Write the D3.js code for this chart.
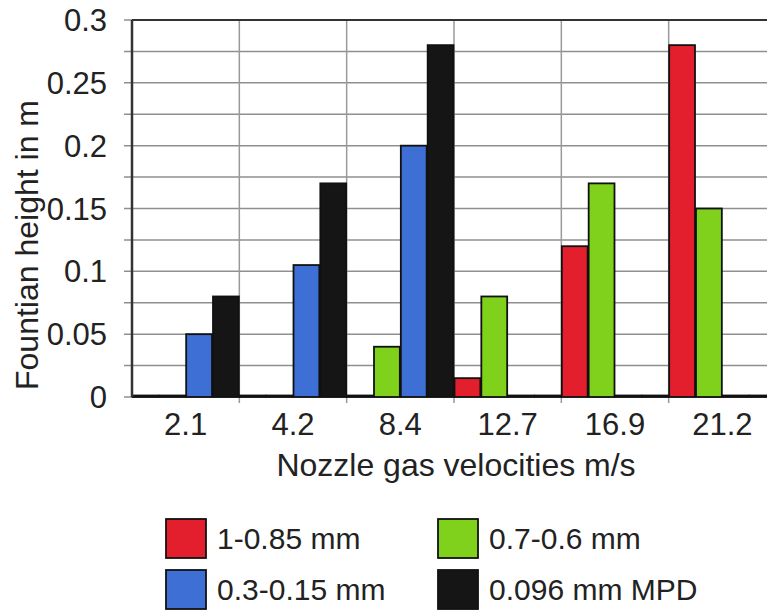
<!DOCTYPE html>
<html>
<head>
<meta charset="utf-8">
<script src="https://cdn.jsdelivr.net/npm/d3@7"></script>
<style>
  body { margin: 0; background: #fff; }
  text { font-family: "Liberation Sans", Arial, sans-serif; fill: #222; }
</style>
</head>
<body>
<div id="chart"></div>
<script>
// chart values
var velocities = ['2.1', '4.2', '8.4', '12.7', '16.9', '21.2'];
var seriesNames = ['1-0.85 mm', '0.7-0.6 mm', '0.3-0.15 mm', '0.096 mm MPD'];
var seriesColors = ['#e41f2d', '#7fd11b', '#3d6fd4', '#151515'];
var coarse = [0, 0, 0, 0.015, 0.12, 0.28];     // 1-0.85 mm
var medium = [0, 0, 0.04, 0.08, 0.17, 0.15];   // 0.7-0.6 mm
var fine = [0.05, 0.105, 0.2, 0, 0, 0];        // 0.3-0.15 mm
var mpd = [0.08, 0.17, 0.28, 0, 0, 0];         // 0.096 mm MPD
var yTicks = [0, 0.05, 0.1, 0.15, 0.2, 0.25, 0.3];
var yGrid = d3.range(0, 0.3001, 0.025);

var seriesValues = [coarse, medium, fine, mpd];

function barChart(parentId) {
    let width = 767;
    let height = 612;

    let left = 132, right = 776, top = 20, bottom = 397;

    let svg = d3.select('#' + parentId).append('svg')
        .attr('width', width)
        .attr('height', height);

    let xScale = d3.scaleBand()
        .domain(velocities)
        .range([left, right])
        .paddingInner(0)
        .paddingOuter(0);

    let xInner = d3.scaleBand()
        .domain(seriesNames)
        .range([0, xScale.bandwidth()])
        .padding(0);

    let yScale = d3.scaleLinear()
        .domain([0, 0.3])
        .range([bottom, top]);

    // horizontal grid lines (with little ticks left of the axis)
    svg.append('g').selectAll('line')
        .data(yGrid)
        .enter()
        .append('line')
        .attr('x1', left - 8)
        .attr('x2', right)
        .attr('y1', d => yScale(d))
        .attr('y2', d => yScale(d))
        .style('stroke', '#8f8f8f')
        .style('stroke-width', 1.5);

    // vertical grid lines between categories
    let bounds = velocities.map(v => xScale(v)).concat([right]);
    svg.append('g').selectAll('line')
        .data(bounds.slice(1))
        .enter()
        .append('line')
        .attr('x1', d => d)
        .attr('x2', d => d)
        .attr('y1', top)
        .attr('y2', bottom + 6)
        .style('stroke', '#9a9a9a')
        .style('stroke-width', 1.5);

    // top border
    svg.append('line')
        .attr('x1', left).attr('x2', right)
        .attr('y1', top).attr('y2', top)
        .style('stroke', '#333').style('stroke-width', 2);

    // bars
    let rows = [];
    velocities.forEach(function (v, i) {
        seriesNames.forEach(function (s, j) {
            rows.push({ cat: v, series: s, value: seriesValues[j][i], color: seriesColors[j] });
        });
    });

    svg.append('g').selectAll('rect')
        .data(rows)
        .enter()
        .append('rect')
        .attr('x', d => xScale(d.cat) + xInner(d.series) + 0.5)
        .attr('y', d => Math.min(yScale(d.value), bottom - 1.5))
        .attr('width', xInner.bandwidth() - 1)
        .attr('height', d => Math.max(1.5, bottom - yScale(d.value)))
        .style('fill', d => d.color)
        .style('stroke', '#111')
        .style('stroke-width', 1.8);

    // y axis line
    svg.append('line')
        .attr('x1', left).attr('x2', left)
        .attr('y1', top).attr('y2', bottom)
        .style('stroke', '#333').style('stroke-width', 2.5);

    // y tick labels
    svg.append('g').selectAll('text')
        .data(yTicks)
        .enter()
        .append('text')
        .attr('x', 107)
        .attr('y', d => yScale(d) + 11)
        .attr('text-anchor', 'end')
        .style('font-size', '31px')
        .text(d => d);

    // x tick labels
    svg.append('g').selectAll('text')
        .data(velocities)
        .enter()
        .append('text')
        .attr('x', d => xScale(d) + xScale.bandwidth() / 2)
        .attr('y', 435)
        .attr('text-anchor', 'middle')
        .style('font-size', '31px')
        .text(d => d);

    // axis titles
    svg.append('text')
        .attr('x', 456)
        .attr('y', 476)
        .attr('text-anchor', 'middle')
        .style('font-size', '32px')
        .text('Nozzle gas velocities m/s');

    svg.append('text')
        .attr('transform', 'translate(38,245) rotate(-90)')
        .attr('text-anchor', 'middle')
        .style('font-size', '32px')
        .text('Fountian height in m');

    // legend
    let legendPos = [[166, 519], [438, 519], [166, 570], [438, 570]];
    let order = [0, 1, 2, 3];
    let lg = svg.append('g').selectAll('g')
        .data(order)
        .enter()
        .append('g')
        .attr('transform', d => 'translate(' + legendPos[d][0] + ',' + legendPos[d][1] + ')');

    lg.append('rect')
        .attr('width', 40)
        .attr('height', 39)
        .style('fill', d => seriesColors[d])
        .style('stroke', '#111')
        .style('stroke-width', 1.8);

    lg.append('text')
        .attr('x', 51)
        .attr('y', 30)
        .style('font-size', '30px')
        .text(d => seriesNames[d]);
}

barChart('chart');
</script>
</body>
</html>
